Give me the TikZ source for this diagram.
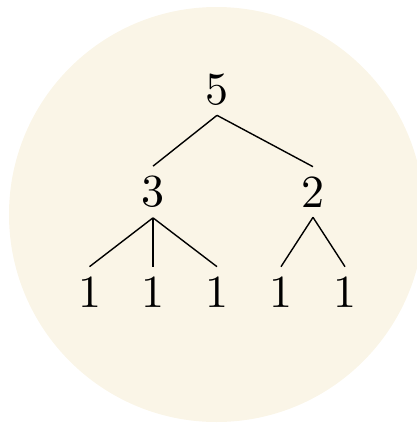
\documentclass[tikz,border=0pt]{standalone}
\definecolor{bgbeige}{RGB}{250,245,231}
\newcommand{\bignum}[1]{\scalebox{4.6}{\fontsize{10}{12}\selectfont #1}}
\begin{document}
\begin{tikzpicture}[x=1pt,y=-1pt,
  num/.style={inner sep=10pt,outer sep=0pt},
  edge/.style={line width=1.4pt}]
\useasboundingbox (0,0) rectangle (417,424);
\clip (0,0) rectangle (417,424);
\fill[bgbeige] (216.5,214.5) circle[radius=207.5];
\node[num] (r) at (217,89.5) {\bignum{5}};
\node[num] (a) at (153,192) {\bignum{3}};
\node[num] (b) at (313,192) {\bignum{2}};
\node[num] (a1) at (89.5,292) {\bignum{1}};
\node[num] (a2) at (153,292) {\bignum{1}};
\node[num] (a3) at (217,292) {\bignum{1}};
\node[num] (b1) at (281,292) {\bignum{1}};
\node[num] (b2) at (345,292) {\bignum{1}};
\draw[edge] (r.south) -- (a.north);
\draw[edge] (r.south) -- (b.north);
\draw[edge] (a.south) -- (a1.north);
\draw[edge] (a.south) -- (a2.north);
\draw[edge] (a.south) -- (a3.north);
\draw[edge] (b.south) -- (b1.north);
\draw[edge] (b.south) -- (b2.north);
\end{tikzpicture}
\end{document}
